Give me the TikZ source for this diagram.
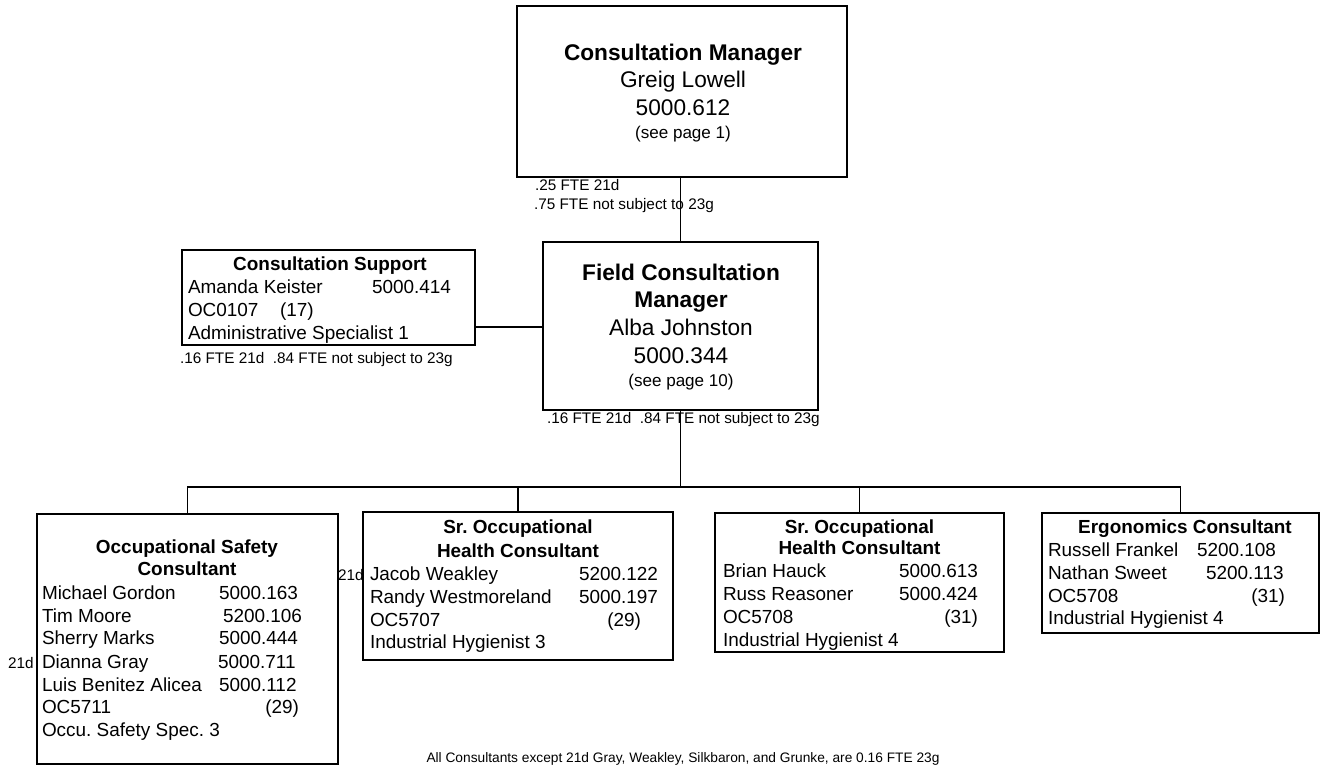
\documentclass[tikz,border=0pt]{standalone}
\usepackage{fontspec}
\setmainfont{Liberation Sans}
\usetikzlibrary{fit}
\begin{document}
\frenchspacing
\begin{tikzpicture}[x=0.75pt,y=-0.75pt,
  box/.style={draw,rectangle,line width=1.1pt,inner sep=0pt},
  link/.style={line width=1.1pt,line cap=rect},
  txt/.style={inner sep=0pt,outer sep=0pt},
  bigtitle/.style={txt,anchor=base,font=\fontsize{17}{20}\selectfont\bfseries},
  bigtext/.style={txt,anchor=base,font=\fontsize{17}{20}\selectfont},
  seepage/.style={txt,anchor=base,font=\fontsize{12.8}{15}\selectfont},
  head/.style={txt,anchor=base,font=\fontsize{14.2}{17}\selectfont\bfseries},
  row/.style={txt,anchor=base west,font=\fontsize{14.2}{17}\selectfont},
  rowr/.style={txt,anchor=base east,font=\fontsize{14.2}{17}\selectfont},
  fte/.style={txt,anchor=base west,font=\fontsize{11.5}{13}\selectfont},
  foot/.style={txt,anchor=base,font=\fontsize{10.3}{12}\selectfont}]
\fill[white] (0,0) rectangle (1325,771);
\useasboundingbox (0,0) rectangle (1325,771);

% ---- boxes ----
\node[box,fit={(517,6) (847,177)}] (mgr) {};
\node[box,fit={(543,242) (818,410)}] (fcm) {};
\node[box,fit={(182,250) (475,345)}] (sup) {};
\node[box,fit={(37,514) (338,764)}] (b1) {};
\node[box,fit={(363,512) (673,660)}] (b2) {};
\node[box,fit={(715,513) (1004,652)}] (b3) {};
\node[box,fit={(1042,513) (1319,633)}] (b4) {};

% ---- connectors ----
\draw[link] (fcm.north |- mgr.south) -- (fcm.north);
\coordinate (supjoin) at (475,327);
\draw[link] (supjoin) -- (supjoin -| fcm.west);
\coordinate (bus) at (681,487);
\draw[link] (fcm.south) -- (fcm.south |- bus);
\draw[link] (b1.north |- bus) -- (b4.north |- bus);
\foreach \b in {b1,b2,b3,b4} \draw[link] (\b.north |- bus) -- (\b.north);

% ---- Consultation Manager ----
\node[bigtitle] (mgrT) at (683,60) {Consultation Manager};
\node[bigtext] (mgrN) at (683,87) {Greig Lowell};
\node[bigtext] (mgrP) at (683,115) {5000.612};
\node[seepage] (mgrS) at (683,138) {(see page 1)};
\node[fte] (mgrF1) at (535,190) {.25 FTE 21d};
\node[fte] (mgrF2) at (534,209) {.75 FTE not subject to 23g};

% ---- Field Consultation Manager ----
\node[bigtitle] (fcmT1) at (681,280) {Field Consultation};
\node[bigtitle] (fcmT2) at (681,307) {Manager};
\node[bigtext] (fcmN) at (681,335) {Alba Johnston};
\node[bigtext] (fcmP) at (681,363) {5000.344};
\node[seepage] (fcmS) at (681,386) {(see page 10)};
\node[fte] (fcmF) at (547,423) {.16 FTE 21d\ \ .84 FTE not subject to 23g};

% ---- Consultation Support ----
\node[head] (supT) at (330,270) {Consultation Support};
\node[row] (supN) at (188,293) {Amanda Keister};
\node[row] (supP) at (372,293) {5000.414};
\node[row] (supC) at (188,316) {OC0107};
\node[row] (supG) at (280,316) {(17)};
\node[row] (supJ) at (188,339) {Administrative Specialist 1};
\node[fte] (supF) at (180,363) {.16 FTE 21d\ \ .84 FTE not subject to 23g};

% ---- Occupational Safety Consultant ----
\node[head] (b1T1) at (187,553) {Occupational Safety};
\node[head] (b1T2) at (187,575) {Consultant};
\node[row] (b1N1) at (42,599) {Michael Gordon};
\node[row] (b1P1) at (219,599) {5000.163};
\node[row] (b1N2) at (42,622) {Tim Moore};
\node[row] (b1P2) at (223,622) {5200.106};
\node[row] (b1N3) at (42,644) {Sherry Marks};
\node[row] (b1P3) at (219,644) {5000.444};
\node[row] (b1N4) at (42,668) {Dianna Gray};
\node[row] (b1P4) at (218,668) {5000.711};
\node[fte] (b1X4) at (8,668) {21d};
\node[row] (b1N5) at (42,691) {Luis Benitez Alicea};
\node[row] (b1P5) at (219,691) {5000.112};
\node[row] (b1C) at (42,713) {OC5711};
\node[rowr] (b1G) at (299,713) {(29)};
\node[row] (b1J) at (42,736) {Occu. Safety Spec. 3};

% ---- Sr. Occupational Health Consultant (1) ----
\node[head] (b2T1) at (518,533) {Sr. Occupational};
\node[head] (b2T2) at (518,557) {Health Consultant};
\node[fte] (b2X1) at (338,580) {21d};
\node[row] (b2N1) at (370,580) {Jacob Weakley};
\node[rowr] (b2P1) at (658,580) {5200.122};
\node[row] (b2N2) at (370,603) {Randy Westmoreland};
\node[rowr] (b2P2) at (658,603) {5000.197};
\node[row] (b2C) at (370,626) {OC5707};
\node[rowr] (b2G) at (641,626) {(29)};
\node[row] (b2J) at (370,648) {Industrial Hygienist 3};

% ---- Sr. Occupational Health Consultant (2) ----
\node[head] (b3T1) at (859.5,533) {Sr. Occupational};
\node[head] (b3T2) at (859.5,554) {Health Consultant};
\node[row] (b3N1) at (723,577) {Brian Hauck};
\node[rowr] (b3P1) at (978,577) {5000.613};
\node[row] (b3N2) at (723,600) {Russ Reasoner};
\node[rowr] (b3P2) at (978,600) {5000.424};
\node[row] (b3C) at (723,623) {OC5708};
\node[rowr] (b3G) at (978,623) {(31)};
\node[row] (b3J) at (723,646) {Industrial Hygienist 4};

% ---- Ergonomics Consultant ----
\node[head] (b4T) at (1185,533) {Ergonomics Consultant};
\node[row] (b4N1) at (1048,556) {Russell Frankel};
\node[row] (b4P1) at (1197,556) {5200.108};
\node[row] (b4N2) at (1048,579) {Nathan Sweet};
\node[row] (b4P2) at (1206,579) {5200.113};
\node[row] (b4C) at (1048,602) {OC5708};
\node[rowr] (b4G) at (1285,602) {(31)};
\node[row] (b4J) at (1048,624) {Industrial Hygienist 4};

% ---- footnote ----
\node[foot] (note) at (683,762) {All Consultants except 21d Gray, Weakley, Silkbaron, and Grunke, are 0.16 FTE 23g};
\end{tikzpicture}
\end{document}
